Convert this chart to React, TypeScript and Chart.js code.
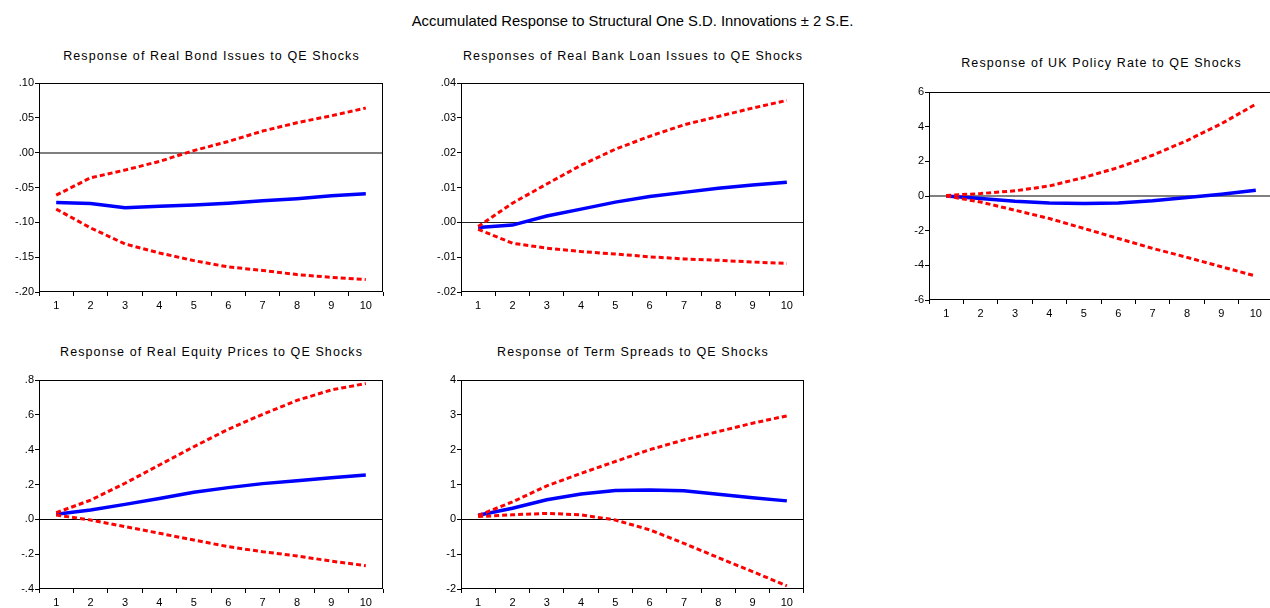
import React, { useEffect, useRef } from "react";
import { Chart, registerables } from "chart.js";

Chart.register(...registerables);

const periods = ["1", "2", "3", "4", "5", "6", "7", "8", "9", "10"];

const mainTitle = "Accumulated Response to Structural One S.D. Innovations ± 2 S.E.";

// Panel 1: Real Bond Issues
const bondResp = [-0.0715, -0.073, -0.079, -0.077, -0.075, -0.0725, -0.069, -0.066, -0.062, -0.059];
const bondUpper = [-0.061, -0.036, -0.025, -0.0125, 0.003, 0.016, 0.031, 0.043, 0.053, 0.064];
const bondLower = [-0.081, -0.108, -0.131, -0.144, -0.155, -0.164, -0.169, -0.175, -0.179, -0.182];

// Panel 2: Real Bank Loan Issues
const loanResp = [-0.0015, -0.0008, 0.0018, 0.0038, 0.0058, 0.0074, 0.0086, 0.0098, 0.0107, 0.0115];
const loanUpper = [-0.0012, 0.0055, 0.011, 0.0164, 0.021, 0.0247, 0.028, 0.0304, 0.0328, 0.035];
const loanLower = [-0.002, -0.006, -0.0074, -0.0084, -0.0091, -0.0099, -0.0105, -0.0109, -0.0114, -0.0118];

// Panel 3: UK Policy Rate
const rateResp = [0.0, -0.15, -0.3, -0.4, -0.43, -0.4, -0.28, -0.09, 0.1, 0.33];
const rateUpper = [0.03, 0.14, 0.3, 0.58, 1.07, 1.64, 2.35, 3.2, 4.17, 5.3];
const rateLower = [0.0, -0.35, -0.82, -1.3, -1.87, -2.45, -3.02, -3.54, -4.08, -4.62];

// Panel 4: Real Equity Prices
const equityResp = [0.029, 0.054, 0.086, 0.12, 0.155, 0.182, 0.205, 0.222, 0.239, 0.255];
const equityUpper = [0.038, 0.11, 0.207, 0.312, 0.417, 0.517, 0.603, 0.683, 0.743, 0.78];
const equityLower = [0.025, -0.004, -0.042, -0.08, -0.119, -0.157, -0.186, -0.21, -0.24, -0.266];

// Panel 5: Term Spreads
const spreadResp = [0.115, 0.32, 0.56, 0.73, 0.83, 0.845, 0.82, 0.72, 0.62, 0.53];
const spreadUpper = [0.11, 0.5, 0.96, 1.32, 1.66, 2.0, 2.28, 2.52, 2.76, 2.97];
const spreadLower = [0.08, 0.13, 0.17, 0.13, -0.02, -0.3, -0.69, -1.1, -1.5, -1.91];

const FONT = "'Liberation Sans', Arial, 'Helvetica', sans-serif";

type PanelCfg = {
  title: string;
  resp: number[];
  upper: number[];
  lower: number[];
  yMin: number;
  yMax: number;
  yStep: number;
  decimals: number;
  left: number;
  top: number;
  right: number;
  bottom: number;
  titleY: number;
  zeroColor: string;
  zeroWidth: number;
};

const panels: PanelCfg[] = [
  {
    title: "Response of Real Bond Issues to QE Shocks",
    resp: bondResp, upper: bondUpper, lower: bondLower,
    yMin: -0.2, yMax: 0.1, yStep: 0.05, decimals: 2,
    left: 39, top: 83, right: 383, bottom: 292, titleY: 55.5,
    zeroColor: "#808080", zeroWidth: 2,
  },
  {
    title: "Responses of Real Bank Loan Issues to QE Shocks",
    resp: loanResp, upper: loanUpper, lower: loanLower,
    yMin: -0.02, yMax: 0.04, yStep: 0.01, decimals: 2,
    left: 461, top: 83, right: 804, bottom: 292, titleY: 55.5,
    zeroColor: "#222222", zeroWidth: 1,
  },
  {
    title: "Response of UK Policy Rate to QE Shocks",
    resp: rateResp, upper: rateUpper, lower: rateLower,
    yMin: -6, yMax: 6, yStep: 2, decimals: 0,
    left: 929, top: 92, right: 1273, bottom: 300, titleY: 63.3,
    zeroColor: "#808080", zeroWidth: 2,
  },
  {
    title: "Response of Real Equity Prices to QE Shocks",
    resp: equityResp, upper: equityUpper, lower: equityLower,
    yMin: -0.4, yMax: 0.8, yStep: 0.2, decimals: 1,
    left: 39, top: 380, right: 383, bottom: 589, titleY: 352.3,
    zeroColor: "#000000", zeroWidth: 1,
  },
  {
    title: "Response of Term Spreads to QE Shocks",
    resp: spreadResp, upper: spreadUpper, lower: spreadLower,
    yMin: -2, yMax: 4, yStep: 1, decimals: 0,
    left: 461, top: 380, right: 804, bottom: 589, titleY: 352.3,
    zeroColor: "#000000", zeroWidth: 1,
  },
];

const AXIS_W = 45;
const PAD_TOP = 8;
const PAD_RIGHT = 8;
const AXIS_H = 25;

function fmt(v: number, d: number): string {
  const s = Math.abs(v) < 1e-9 ? (0).toFixed(d) : v.toFixed(d);
  return s.replace(/^(-?)0\./, "$1.");
}

const framePlugin = {
  id: "frame",
  beforeDatasetsDraw(chart: any, _args: any, opts: any) {
    const { ctx, chartArea } = chart;
    const y = chart.scales.y.getPixelForValue(0);
    ctx.save();
    ctx.strokeStyle = opts.zeroColor || "#000";
    ctx.lineWidth = opts.zeroWidth || 1;
    const yy = opts.zeroWidth % 2 === 1 ? Math.round(y) + 0.5 : Math.round(y);
    ctx.beginPath();
    ctx.moveTo(chartArea.left, yy);
    ctx.lineTo(chartArea.right, yy);
    ctx.stroke();
    ctx.restore();
  },
  afterDraw(chart: any) {
    const { ctx, chartArea } = chart;
    ctx.save();
    ctx.strokeStyle = "#000";
    ctx.lineWidth = 1;
    const l = Math.round(chartArea.left) + 0.5;
    const t = Math.round(chartArea.top) + 0.5;
    const r = Math.round(chartArea.right) - 0.5;
    const b = Math.round(chartArea.bottom) - 0.5;
    ctx.strokeRect(l, t, r - l, b - t);
    ctx.restore();
  },
};

function Panel({ cfg }: { cfg: PanelCfg }) {
  const ref = useRef<HTMLCanvasElement | null>(null);
  const w = cfg.right - cfg.left + AXIS_W + PAD_RIGHT;
  const h = cfg.bottom - cfg.top + PAD_TOP + AXIS_H;

  useEffect(() => {
    if (!ref.current) return;
    const chart = new Chart(ref.current, {
      type: "line",
      data: {
        labels: periods,
        datasets: [
          {
            data: cfg.upper,
            borderColor: "#ff0000",
            borderWidth: 3,
            borderDash: [5, 3],
            pointRadius: 0,
            tension: 0,
            fill: false,
          },
          {
            data: cfg.lower,
            borderColor: "#ff0000",
            borderWidth: 3,
            borderDash: [5, 3],
            pointRadius: 0,
            tension: 0,
            fill: false,
          },
          {
            data: cfg.resp,
            borderColor: "#0000ff",
            borderWidth: 3.5,
            pointRadius: 0,
            tension: 0,
            fill: false,
          },
        ],
      },
      options: {
        animation: false,
        responsive: false,
        maintainAspectRatio: false,
        devicePixelRatio: 1,
        layout: { padding: { left: 0, top: PAD_TOP, right: PAD_RIGHT, bottom: 0 } },
        plugins: {
          legend: { display: false },
          tooltip: { enabled: false },
          title: { display: false },
          frame: { zeroColor: cfg.zeroColor, zeroWidth: cfg.zeroWidth },
        } as any,
        scales: {
          x: {
            type: "category",
            offset: true,
            afterFit: (s: any) => {
              s.height = AXIS_H;
            },
            border: { display: false },
            grid: {
              offset: true,
              display: true,
              drawOnChartArea: false,
              drawTicks: true,
              tickLength: 4,
              color: "#000",
              lineWidth: 1,
            },
            ticks: {
              autoSkip: false,
              maxRotation: 0,
              padding: 3,
              color: "#000",
              font: { family: FONT, size: 11 },
            },
          },
          y: {
            type: "linear",
            min: cfg.yMin,
            max: cfg.yMax,
            afterFit: (s: any) => {
              s.width = AXIS_W;
            },
            border: { display: false },
            grid: {
              display: true,
              drawOnChartArea: false,
              drawTicks: true,
              tickLength: 4,
              color: "#000",
              lineWidth: 1,
            },
            ticks: {
              stepSize: cfg.yStep,
              padding: 1,
              color: "#000",
              font: { family: FONT, size: 11 },
              callback: (v: any) => fmt(Number(v), cfg.decimals),
            },
          },
        },
      },
      plugins: [framePlugin as any],
    });
    return () => chart.destroy();
  }, [cfg]);

  return (
    <>
      <canvas
        ref={ref}
        width={w}
        height={h}
        style={{
          position: "absolute",
          left: cfg.left - AXIS_W,
          top: cfg.top - PAD_TOP,
          width: w,
          height: h,
        }}
      />
      <div
        style={{
          position: "absolute",
          left: (cfg.left + cfg.right) / 2 + 0.5,
          top: cfg.titleY,
          transform: "translate(-50%, -50%)",
          fontFamily: FONT,
          fontSize: 12.5,
          letterSpacing: "1.1px",
          whiteSpace: "nowrap",
          color: "#000",
          lineHeight: "14px",
        }}
      >
        {cfg.title}
      </div>
    </>
  );
}

export default function App() {
  return (
    <div
      style={{
        position: "fixed",
        left: 0,
        top: 0,
        width: 1270,
        height: 608,
        overflow: "hidden",
        background: "#fff",
      }}
    >
      <div
        style={{
          position: "absolute",
          left: 632.5,
          top: 21,
          transform: "translate(-50%, -50%)",
          fontFamily: FONT,
          fontSize: 14.8,
          whiteSpace: "nowrap",
          color: "#000",
          lineHeight: "17px",
        }}
      >
        {mainTitle}
      </div>
      {panels.map((p, i) => (
        <Panel key={i} cfg={p} />
      ))}
    </div>
  );
}
